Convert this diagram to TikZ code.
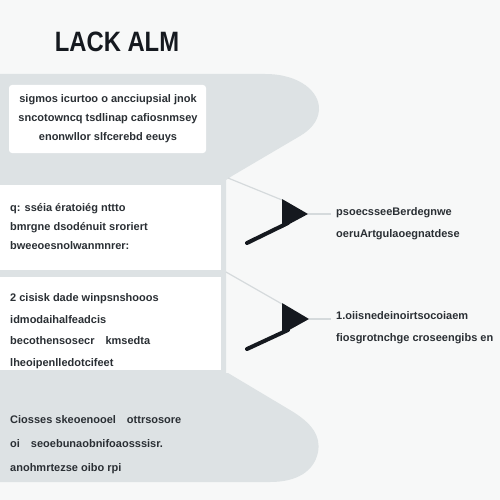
\documentclass[tikz,border=0pt]{standalone}
\usepackage{fontspec}
\setmainfont{Liberation Sans}
\usetikzlibrary{positioning}
\definecolor{panelgray}{HTML}{DDE2E4}
\definecolor{pagebg}{HTML}{F7F8F8}
\definecolor{inkdark}{HTML}{15191F}
\definecolor{textgray}{HTML}{2A2F34}
\definecolor{wiregray}{HTML}{D5DADC}

\begin{document}
\begin{tikzpicture}[x=1pt,y=-1pt,
  every node/.style={inner sep=0pt,text=textgray,font=\bfseries\fontsize{11}{19}\selectfont},
  body/.style={align=left,anchor=base west},
  wire/.style={draw=wiregray,line width=1.2pt},
  shaft/.style={draw=inkdark,line width=4pt,line cap=round},
  node distance=27pt
]
  \useasboundingbox (0,0) rectangle (500,500);
  \fill[pagebg] (0,0) rectangle (500,500);

  % gray column with the two bulges
  \fill[panelgray] (0,74) -- (265,74) .. controls (300,74) and (320,92) .. (319,110)
    .. controls (318,122) and (310,130) .. (300,136) -- (232,176) -- (226,180)
    -- (226,373) -- (228,373) -- (290,410) .. controls (312,423) and (321,436) .. (318,452)
    .. controls (314,472) and (296,482) .. (270,482) -- (0,482) -- cycle;
  \fill[white,rounded corners=3pt] (9,85) rectangle (206,153);
  \fill[white] (0,185) rectangle (221,270);
  \fill[white] (0,277) rectangle (221,370);

  \node[font=\bfseries\fontsize{28}{30}\selectfont,text=inkdark] (title) at (117,42)
    {\scalebox{0.85}[1]{LACK ALM}};

  \node[align=center] (topnote) at (108,119)
    {sigmos icurtoo o ancciupsial jnok\\sncotowncq tsdlinap cafiosnmsey\\enonwllor slfcerebd eeuys};

  % base anchor sits on the last line
  \node[body] (stepone) at (10,249)
    {q: sséia ératoiég nttto\\bmrgne dsodénuit sroriert\\bweeoesnolwanmnrer:};
  \node[body,font=\bfseries\fontsize{11}{21.5}\selectfont] (steptwo) at (10,366)
    {2 cisisk dade winpsnshooos\\idmodaihalfeadcis\\becothensosecr\quad kmsedta\\lheoipenlledotcifeet};
  \node[body,font=\bfseries\fontsize{11}{24}\selectfont] (closing) at (10,471)
    {Ciosses skeoenooel\quad ottrsosore\\oi\quad seoebunaobnifoaosssisr.\\anohmrtezse oibo rpi};

  % arrow one
  \coordinate (tip1) at (308,214);
  \coordinate (fork1) at (228,178);
  \fill[inkdark] (282,199) -- (tip1) -- (282,228) -- cycle;
  \draw[shaft] (247,243) -- (288,223);
  \draw[wire] (fork1) -- (282,200);
  \node[body,font=\bfseries\fontsize{11}{22}\selectfont,below right=23pt and 28pt of tip1,anchor=base west] (outone)
    {psoecsseeBerdegnwe\\oeruArtgulaoegnatdese};
  \draw[wire,shorten >=5pt] (tip1) -- (outone.west |- tip1);

  % arrow two
  \coordinate (tip2) at (309,319);
  \coordinate (fork2) at (226,272);
  \fill[inkdark] (282,303) -- (tip2) -- (282,334) -- cycle;
  \draw[shaft] (247,349) -- (288,330);
  \draw[wire] (fork2) -- (282,304);
  \node[body,font=\bfseries\fontsize{11}{22}\selectfont,below right=22pt and 27pt of tip2,anchor=base west] (outtwo)
    {1.oiisnedeinoirtsocoiaem\\fiosgrotnchge croseengibs en};
  \draw[wire,shorten >=5pt] (tip2) -- (outtwo.west |- tip2);
\end{tikzpicture}
\end{document}
